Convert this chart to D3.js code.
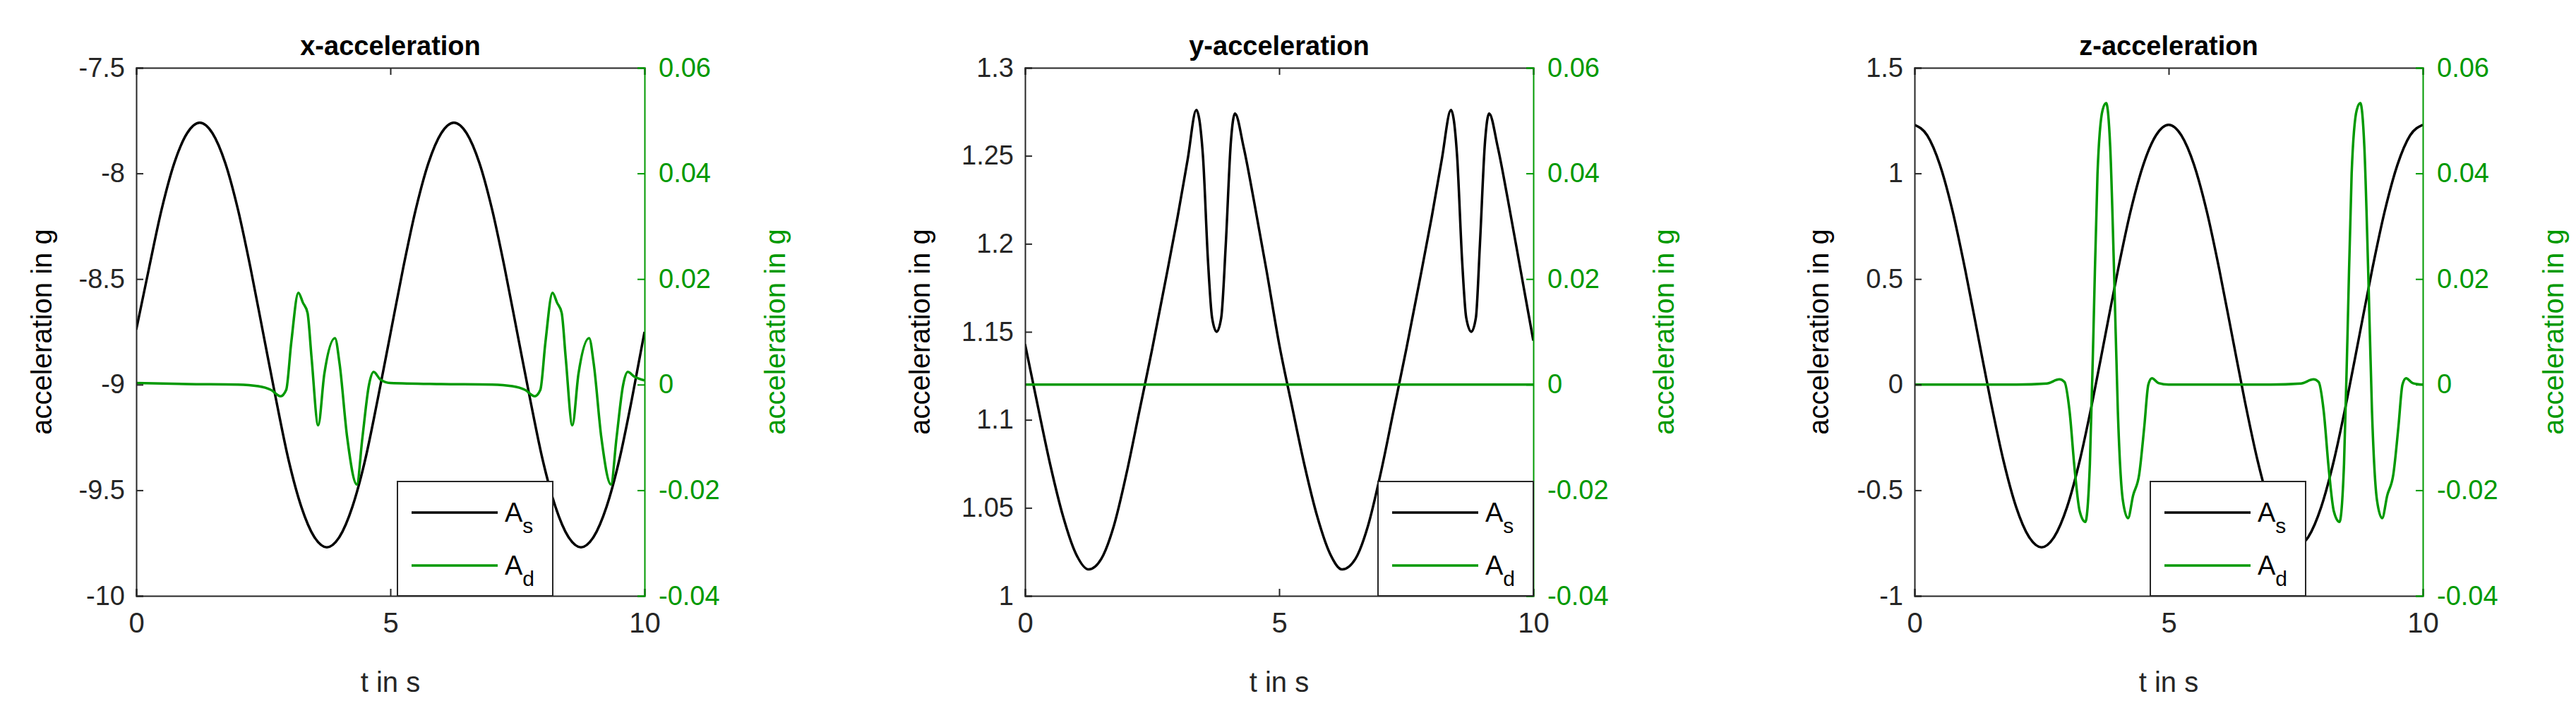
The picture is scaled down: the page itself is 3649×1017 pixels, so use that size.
<!DOCTYPE html>
<html><head><meta charset="utf-8">
<script src="https://cdn.jsdelivr.net/npm/d3@7"></script>
<style>body{margin:0;background:#fff}svg{display:block}text{font-family:"Liberation Sans",Arial,sans-serif}</style>
</head><body><svg id="c" width="3649" height="1017"></svg>
<script>
const titles = ["x-acceleration","y-acceleration","z-acceleration"];
const xTicks = [0,5,10];
const rightTicks = [-0.04,-0.02,0,0.02,0.04,0.06];
const leftTicksX = [-10,-9.5,-9,-8.5,-8,-7.5];
const leftTicksY = [1,1.05,1.1,1.15,1.2,1.25,1.3];
const leftTicksZ = [-1,-0.5,0,0.5,1,1.5];
const tGrid = [0,0.25,0.5,0.75,1,1.25,1.5,1.75,2,2.25,2.5,2.75,3,3.25,3.5,3.75,4,4.25,4.5,4.75,5,5.25,5.5,5.75,6,6.25,6.5,6.75,7,7.25,7.5,7.75,8,8.25,8.5,8.75,9,9.25,9.5,9.75,10];
const AsX = [-8.74,-8.45,-8.17,-7.95,-7.81,-7.76,-7.81,-7.95,-8.17,-8.45,-8.76,-9.07,-9.36,-9.58,-9.72,-9.77,-9.72,-9.58,-9.36,-9.07,-8.76,-8.45,-8.17,-7.95,-7.81,-7.76,-7.81,-7.95,-8.17,-8.45,-8.76,-9.07,-9.36,-9.58,-9.72,-9.77,-9.72,-9.58,-9.36,-9.07,-8.75];
const AsZ = [1.23,1.18,1.04,0.82,0.54,0.23,-0.08,-0.36,-0.58,-0.72,-0.77,-0.72,-0.58,-0.36,-0.08,0.23,0.54,0.82,1.04,1.18,1.23,1.18,1.04,0.82,0.54,0.23,-0.08,-0.36,-0.58,-0.72,-0.77,-0.72,-0.58,-0.36,-0.08,0.23,0.54,0.82,1.04,1.18,1.23];
const tY = [0,0.25,0.5,0.75,1,1.25,1.5,1.75,2,2.25,2.5,2.75,3,3.2,3.37,3.5,3.6,3.68,3.77,3.86,3.95,4.05,4.13,4.3,4.5,4.75,5,5.25,5.5,5.75,6,6.24,6.5,6.75,7,7.25,7.5,7.75,8,8.2,8.38,8.5,8.6,8.68,8.78,8.87,8.95,9.05,9.13,9.3,9.5,9.75,10];
const AsY = [1.143,1.108,1.074,1.045,1.024,1.015,1.021,1.04,1.07,1.105,1.14,1.177,1.215,1.248,1.276,1.25,1.19,1.158,1.15,1.158,1.2,1.258,1.274,1.255,1.225,1.185,1.143,1.108,1.074,1.045,1.024,1.015,1.021,1.04,1.07,1.105,1.14,1.177,1.215,1.248,1.276,1.25,1.19,1.158,1.15,1.158,1.2,1.258,1.274,1.255,1.225,1.185,1.145];
const tAdX = [0,1,2,2.4,2.65,2.84,2.95,3.05,3.19,3.28,3.37,3.45,3.58,3.7,3.91,4.0,4.15,4.34,4.45,4.58,4.67,4.8,5,6,7,7.4,7.65,7.84,7.95,8.05,8.19,8.28,8.37,8.45,8.58,8.7,8.91,9.0,9.15,9.34,9.45,9.58,9.67,9.8,10];
const AdX = [0.0003,0.0001,0,-0.0003,-0.001,-0.0022,-0.001,0.008,0.0174,0.0155,0.0136,0.005,-0.0077,0.002,0.0088,0.004,-0.01,-0.0189,-0.01,0,0.0024,0.001,0.0003,0.0001,0,-0.0003,-0.001,-0.0022,-0.001,0.008,0.0174,0.0155,0.0136,0.005,-0.0077,0.002,0.0088,0.004,-0.01,-0.0189,-0.01,0,0.0024,0.0015,0.0008];
const tAdY = [0,10];
const AdY = [0,0];
const tAdZ = [0,2,2.6,2.85,2.95,3.05,3.15,3.25,3.36,3.45,3.52,3.6,3.7,3.77,3.85,3.93,4.0,4.1,4.2,4.3,4.42,4.52,4.6,4.67,4.8,5,7,7.6,7.85,7.95,8.05,8.15,8.25,8.36,8.45,8.52,8.6,8.7,8.77,8.85,8.93,9.0,9.1,9.2,9.3,9.42,9.52,9.6,9.67,9.8,10];
const AdZ = [0,0,0.0002,0.001,0.0005,-0.005,-0.016,-0.024,-0.026,-0.015,0.01,0.04,0.052,0.0533,0.045,0.02,-0.005,-0.022,-0.0253,-0.021,-0.017,-0.008,0,0.0012,0.0003,0,0,0.0002,0.001,0.0005,-0.005,-0.016,-0.024,-0.026,-0.015,0.01,0.04,0.052,0.0533,0.045,0.02,-0.005,-0.022,-0.0253,-0.021,-0.017,-0.008,0,0.0012,0.0003,0];

const GREEN = "#009900";
const panels = [
 {left:193, ylab:59, ticks:leftTicksX, dom:[-10,-7.5], ts:tGrid, as:AsX, tad:tAdX, ad:AdX, leg:563},
 {left:1452, ylab:1303, ticks:leftTicksY, dom:[1,1.3], ts:tY, as:AsY, tad:tAdY, ad:AdY, leg:1952},
 {left:2712, ylab:2576, ticks:leftTicksZ, dom:[-1,1.5], ts:tGrid, as:AsZ, tad:tAdZ, ad:AdZ, leg:3046}
];
const W=720, TOP=96, BOT=844, FS=38;
const svg = d3.select("#c");
panels.forEach((p,i)=>{
  const g = svg.append("g");
  const x = d3.scaleLinear().domain([0,10]).range([p.left,p.left+W]);
  const y = d3.scaleLinear().domain(p.dom).range([BOT,TOP]);
  const y2 = d3.scaleLinear().domain([-0.04,0.06]).range([BOT,TOP]);
  const clipId="cl"+i;
  g.append("clipPath").attr("id",clipId).append("rect").attr("x",p.left).attr("y",TOP).attr("width",W).attr("height",BOT-TOP);
  const ln = (xs,ys,sy)=>d3.line().x((d,k)=>x(xs[k])).y(d=>sy(d)).curve(d3.curveMonotoneX)(ys);
  const cg = g.append("g").attr("clip-path",`url(#${clipId})`);
  cg.append("path").attr("d",ln(p.ts,p.as,y)).attr("fill","none").attr("stroke","#000").attr("stroke-width",3.5);
  cg.append("path").attr("d",ln(p.tad,p.ad,y2)).attr("fill","none").attr("stroke",GREEN).attr("stroke-width",3.5);
  const ax = g.append("g").attr("transform",`translate(0,${BOT})`).call(d3.axisBottom(x).tickValues(xTicks).tickSize(-10).tickPadding(24).tickFormat(d3.format("d")));
  const axT = g.append("g").attr("transform",`translate(0,${TOP})`).call(d3.axisTop(x).tickValues(xTicks).tickSize(-10).tickFormat(""));
  const ay = g.append("g").attr("transform",`translate(${p.left},0)`).call(d3.axisLeft(y).tickValues(p.ticks).tickSize(-10).tickPadding(16).tickFormat(d=>String(+d.toFixed(2))));
  const ay2 = g.append("g").attr("transform",`translate(${p.left+W},0)`).call(d3.axisRight(y2).tickValues(rightTicks).tickSize(-10).tickPadding(20).tickFormat(d=>String(+d.toFixed(2))));
  [ax,axT,ay].forEach(a=>{a.selectAll("path,line").attr("stroke","#262626").attr("stroke-width",2);a.selectAll("text").attr("fill","#262626").attr("font-size",FS).attr("font-family","Liberation Sans, Arial");});
  ax.selectAll("text").attr("font-size",40);
  ay2.selectAll("path,line").attr("stroke",GREEN).attr("stroke-width",2);
  ay2.selectAll("text").attr("fill",GREEN).attr("font-size",FS).attr("font-family","Liberation Sans, Arial");
  g.append("text").attr("x",p.left+W/2).attr("y",78).attr("text-anchor","middle").attr("font-weight","bold").attr("font-size",38).text(titles[i]);
  g.append("text").attr("x",p.left+W/2).attr("y",980).attr("text-anchor","middle").attr("font-size",40).attr("fill","#262626").text("t in s");
  g.append("text").attr("transform",`translate(${p.ylab+14},${(TOP+BOT)/2}) rotate(-90)`).attr("text-anchor","middle").attr("font-size",40).attr("fill","#000").text("acceleration in g");
  g.append("text").attr("transform",`translate(${p.left+W+185+14},${(TOP+BOT)/2}) rotate(-90)`).attr("text-anchor","middle").attr("font-size",40).attr("fill",GREEN).text("acceleration in g");
  const lg = g.append("g");
  lg.append("rect").attr("x",p.leg).attr("y",682).attr("width",220).attr("height",BOT-682).attr("fill","#fff").attr("stroke","#262626").attr("stroke-width",2);
  [["s","#000",726],["d",GREEN,801]].forEach(([sub,c,yy])=>{
    lg.append("line").attr("x1",p.leg+20).attr("x2",p.leg+142).attr("y1",yy).attr("y2",yy).attr("stroke",c).attr("stroke-width",3.5);
    const t=lg.append("text").attr("x",p.leg+152).attr("y",yy+13).attr("font-size",38).attr("fill","#000");
    t.append("tspan").text("A");
    t.append("tspan").attr("dy",16).attr("font-size",30).text(sub);
  });
});
</script></body></html>
